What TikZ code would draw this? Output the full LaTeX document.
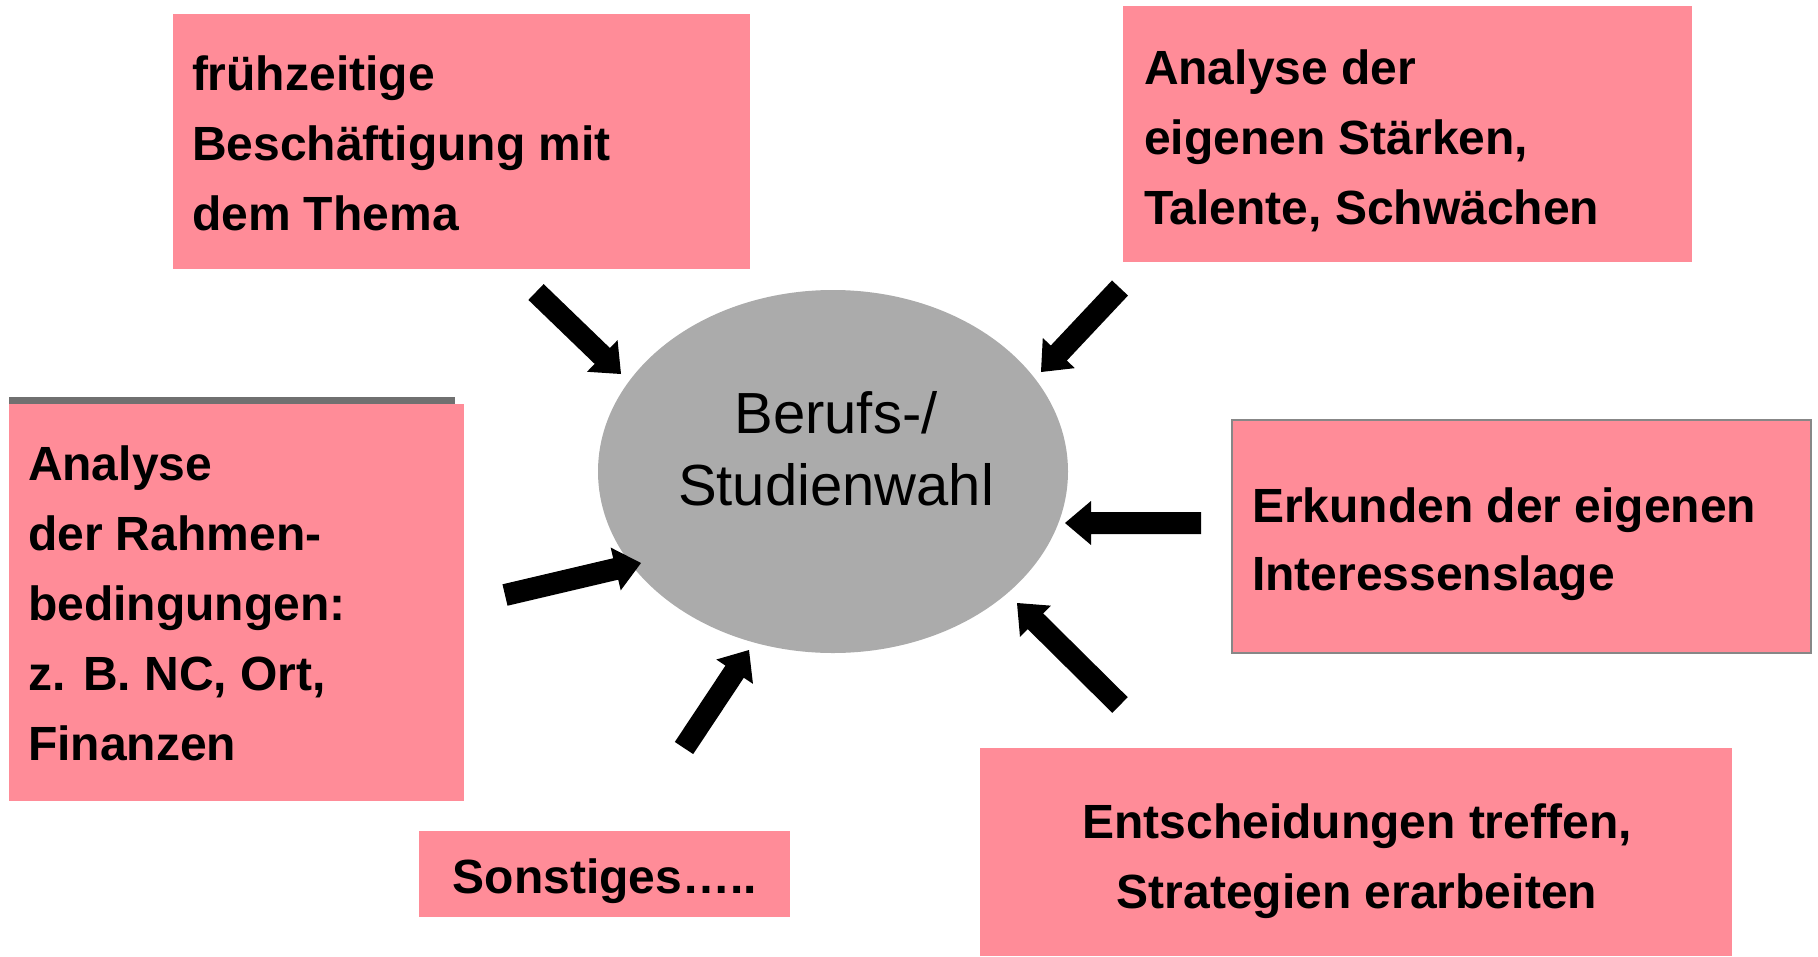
\documentclass[tikz,border=0pt]{standalone}
\usepackage{fontspec}
\setmainfont{Liberation Sans}
\usetikzlibrary{calc,shapes.geometric}
\definecolor{boxpink}{RGB}{255,140,152}
\definecolor{ellgray}{RGB}{171,171,171}
\definecolor{bargray}{RGB}{112,112,112}
\definecolor{edgegray}{RGB}{135,135,135}
\newcommand{\firstlinestrut}{\rule{0pt}{36pt}}
\newcommand{\centerstrut}{\rule{0pt}{43pt}}
% block arrow from tail #1 to tip #2: shaft 22, head width 44, head length 26
\newcommand{\blockarrow}[2]{%
  \coordinate (h) at ($(#2)!26pt!(#1)$);
  \fill[arrowfill] ($(#1)!11pt!90:(#2)$) -- ($(h)!11pt!90:(#2)$) -- ($(h)!22pt!90:(#2)$)
    -- (#2) -- ($(h)!22pt!-90:(#2)$) -- ($(h)!11pt!-90:(#2)$) -- ($(#1)!11pt!-90:(#2)$) -- cycle;}
\tikzset{
  pinkbox/.style={rectangle, fill=boxpink, inner sep=0pt, outer sep=0pt},
  btext/.style={inner sep=0pt, outer sep=0pt, font=\fontsize{48}{70}\selectfont\bfseries, align=left, anchor=north west},
  ctext/.style={inner sep=0pt, outer sep=0pt, font=\fontsize{48}{70}\selectfont\bfseries, align=center, anchor=north},
  arrowfill/.style={fill=black}
}
\begin{document}
\begin{tikzpicture}[x=1pt,y=-1pt]
\useasboundingbox (0,0) rectangle (1818,956);
% boxes
\node[pinkbox, minimum width=577pt, minimum height=255pt] (b1) at (461.5,141.5) {};
\node[pinkbox, minimum width=569pt, minimum height=256pt] (b2) at (1407.5,134) {};
\fill[bargray] (9,397) rectangle (455,404);
\node[pinkbox, minimum width=455pt, minimum height=397pt] (b3) at (236.5,602.5) {};
\node[pinkbox, draw=edgegray, line width=1.5pt, minimum width=579pt, minimum height=233pt] (b4) at (1521.5,536.5) {};
\node[pinkbox, minimum width=371pt, minimum height=86pt] (b5) at (604.5,874) {};
\node[pinkbox, minimum width=752pt, minimum height=208pt] (b6) at (1356,852) {};
% texts
\node[btext] (t1) at (192,54) {\firstlinestrut frühzeitige\\Beschäftigung mit\\dem Thema};
\node[btext] (t2) at (1144,48) {\firstlinestrut Analyse der\\eigenen Stärken,\\Talente, Schwächen};
\node[btext] (t3) at (28,444) {\firstlinestrut Analyse\\der Rahmen-\\bedingungen:\\z. B. NC, Ort,\\Finanzen};
\node[btext, font=\fontsize{48}{68}\selectfont\bfseries] (t4) at (1252,486) {\firstlinestrut Erkunden der eigenen\\Interessenslage};
\node[ctext] (t5) at (605,857) {\firstlinestrut Sonstiges…..};
\node[ctext] (t6) at (1357,802) {\firstlinestrut Entscheidungen treffen,\\Strategien erarbeiten};
% ellipse
\node[ellipse, fill=ellgray, inner sep=0pt, outer sep=0pt, minimum width=470pt, minimum height=363pt] (E) at (833,471.5) {};
\node[inner sep=0pt, outer sep=0pt, font=\fontsize{58}{72}\selectfont, align=center, anchor=north] (Et) at (836,390) {\centerstrut Berufs-/\\Studienwahl};
% arrows
\coordinate (a1) at (536,292);
\coordinate (a2) at (1120,288);
\coordinate (a3) at (1201,523);
\coordinate (a4) at (1120,705);
\coordinate (a5) at (684,748);
\coordinate (a6) at (505,595);
\coordinate (p1) at ($(E.center)+(-212,-97.5)$);
\coordinate (p2) at ($(E.center)+(208,-99.5)$);
\coordinate (p3) at ($(E.center)+(232,51.5)$);
\coordinate (p4) at ($(E.center)+(184,131.5)$);
\coordinate (p5) at ($(E.center)+(-84,178.5)$);
\coordinate (p6) at ($(E.center)+(-192,91.5)$);
\blockarrow{a1}{p1}
\blockarrow{a2}{p2}
\blockarrow{a3}{p3}
\blockarrow{a4}{p4}
\blockarrow{a5}{p5}
\blockarrow{a6}{p6}
\end{tikzpicture}
\end{document}
